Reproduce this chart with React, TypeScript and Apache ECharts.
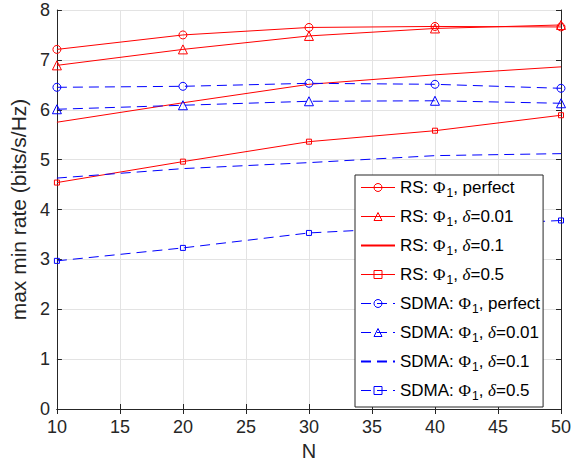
import React, { useEffect, useRef } from 'react';
import * as echarts from 'echarts';

const N = [10, 20, 30, 40, 50];
const rsPerfect = [7.21, 7.5, 7.65, 7.67, 7.66];
const rsD001 = [6.89, 7.21, 7.48, 7.63, 7.7];
const rsD01 = [5.75, 6.14, 6.51, 6.7, 6.86];
const rsD05 = [4.54, 4.96, 5.36, 5.58, 5.89];
const sdPerfect = [6.45, 6.47, 6.53, 6.51, 6.43];
const sdD001 = [6.01, 6.09, 6.17, 6.18, 6.13];
const sdD01 = [4.63, 4.82, 4.94, 5.08, 5.12];
const sdD05 = [2.97, 3.23, 3.53, 3.66, 3.78];

const seriesNames = [
  'RS: Φ1, perfect',
  'RS: Φ1, δ=0.01',
  'RS: Φ1, δ=0.1',
  'RS: Φ1, δ=0.5',
  'SDMA: Φ1, perfect',
  'SDMA: Φ1, δ=0.01',
  'SDMA: Φ1, δ=0.1',
  'SDMA: Φ1, δ=0.5',
];
const seriesValues = [rsPerfect, rsD001, rsD01, rsD05, sdPerfect, sdD001, sdD01, sdD05];
const seriesSymbols = ['circle', 'triangle', 'none', 'rect', 'circle', 'triangle', 'none', 'rect'];
const seriesSymbolSizes = [8, 9, 0, 5, 8, 9, 0, 5];

const FONT = 'Liberation Sans, Arial, Helvetica, sans-serif';
const SERIF = 'Liberation Serif, Times New Roman, serif';
const AXIS_COLOR = '#262626';
const LEG = 17;
const CLEAR = 'rgba(255,255,255,0)';
const DASH = [10, 6];

function legendFormatter(name: string): string {
  const idx = name.indexOf(': Φ1, ');
  const scheme = name.slice(0, idx);
  const rest = name.slice(idx + 6);
  const tail = rest.startsWith('δ') ? `{i|δ}{t|${rest.slice(1)}}` : `{t|${rest}}`;
  return `{t|${scheme}: }{g|Φ}{s|1}{t|, }${tail}`;
}

export default function App() {
  const ref = useRef<HTMLDivElement>(null);
  useEffect(() => {
    if (!ref.current) return;
    document.body.style.margin = '0';
    const chart = echarts.init(ref.current, undefined, { renderer: 'svg' });
    const colorOf = (k: number) => (k < 4 ? '#ff0000' : '#0000ff');
    const series = seriesNames.map((name, k) => {
      const isRS = k < 4;
      const color = colorOf(k);
      const hasSym = seriesSymbols[k] !== 'none';
      return {
        name,
        type: 'line',
        data: N.map((n, i) => [n, seriesValues[k][i]]),
        symbol: hasSym ? seriesSymbols[k] : 'circle',
        symbolSize: seriesSymbolSizes[k],
        showSymbol: hasSym,
        color,
        lineStyle: { color, width: 1, type: isRS ? 'solid' : DASH },
        itemStyle: hasSym
          ? { color: CLEAR, borderColor: color, borderWidth: 1 }
          : { color: CLEAR, borderColor: CLEAR, borderWidth: 0 },
        emphasis: { disabled: true },
        z: 3,
      };
    });
    const legendData = seriesNames.map((name, k) => {
      const hasSym = seriesSymbols[k] !== 'none';
      const color = colorOf(k);
      if (!hasSym) {
        return {
          name,
          itemStyle: { color: CLEAR, borderColor: CLEAR, borderWidth: 0, opacity: 0 },
        };
      }
      return {
        name,
        lineStyle: { color, width: 1, type: k < 4 ? 'solid' : DASH },
        itemStyle: { color: CLEAR, borderColor: color, borderWidth: 1 },
      };
    });
    const commonX = { type: 'value', min: 10, max: 50, interval: 5 };
    const commonY = { type: 'value', min: 0, max: 8, interval: 1 };
    const line = { show: true, lineStyle: { color: AXIS_COLOR, width: 1 } };
    const tick = { show: true, inside: true, length: 5, lineStyle: { color: AXIS_COLOR } };
    chart.setOption({
      animation: false,
      grid: { left: 52, right: 22, top: 10, bottom: 59, containLabel: false },
      xAxis: [
        {
          ...commonX,
          position: 'bottom',
          name: 'N',
          nameLocation: 'middle',
          nameGap: 29,
          nameTextStyle: { fontSize: 20, fontFamily: FONT, color: AXIS_COLOR },
          axisLine: line,
          axisTick: tick,
          axisLabel: { fontSize: 18, fontFamily: FONT, color: AXIS_COLOR, margin: 9 },
          splitLine: { show: true, lineStyle: { color: '#e3e3e3', width: 1 } },
        },
        {
          ...commonX,
          position: 'top',
          axisLine: line,
          axisTick: tick,
          axisLabel: { show: false },
          splitLine: { show: false },
        },
      ],
      yAxis: [
        {
          ...commonY,
          position: 'left',
          name: 'max min rate (bits/s/Hz)',
          nameLocation: 'middle',
          nameGap: 22,
          nameTextStyle: { fontSize: 21, fontFamily: FONT, color: AXIS_COLOR },
          axisLine: line,
          axisTick: tick,
          axisLabel: { fontSize: 18, fontFamily: FONT, color: AXIS_COLOR, margin: 7 },
          splitLine: { show: true, lineStyle: { color: '#e3e3e3', width: 1 } },
        },
        {
          ...commonY,
          position: 'right',
          axisLine: line,
          axisTick: tick,
          axisLabel: { show: false },
          splitLine: { show: false },
        },
      ],
      legend: {
        orient: 'vertical',
        left: 355,
        top: 175,
        data: legendData,
        backgroundColor: '#ffffff',
        borderColor: AXIS_COLOR,
        borderWidth: 1,
        borderRadius: 0,
        padding: [4, 3, 5, 5],
        itemWidth: 34,
        itemHeight: 10,
        itemGap: 9,
        selectedMode: false,
        z: 10,
        itemStyle: { borderWidth: 1 },
        formatter: legendFormatter,
        textStyle: {
          fontSize: LEG,
          fontFamily: FONT,
          color: '#000',
          rich: {
            t: { fontSize: LEG, fontFamily: FONT, color: '#000' },
            g: { fontSize: LEG, fontFamily: SERIF, color: '#000' },
            i: { fontSize: LEG, fontFamily: SERIF, fontStyle: 'italic', color: '#000' },
            s: { fontSize: 12, fontFamily: FONT, color: '#000', padding: [11, 0, 0, 1] },
          },
        },
      },
      series,
    });
    return () => chart.dispose();
  }, []);
  return <div ref={ref} style={{ width: 583, height: 468 }} />;
}
